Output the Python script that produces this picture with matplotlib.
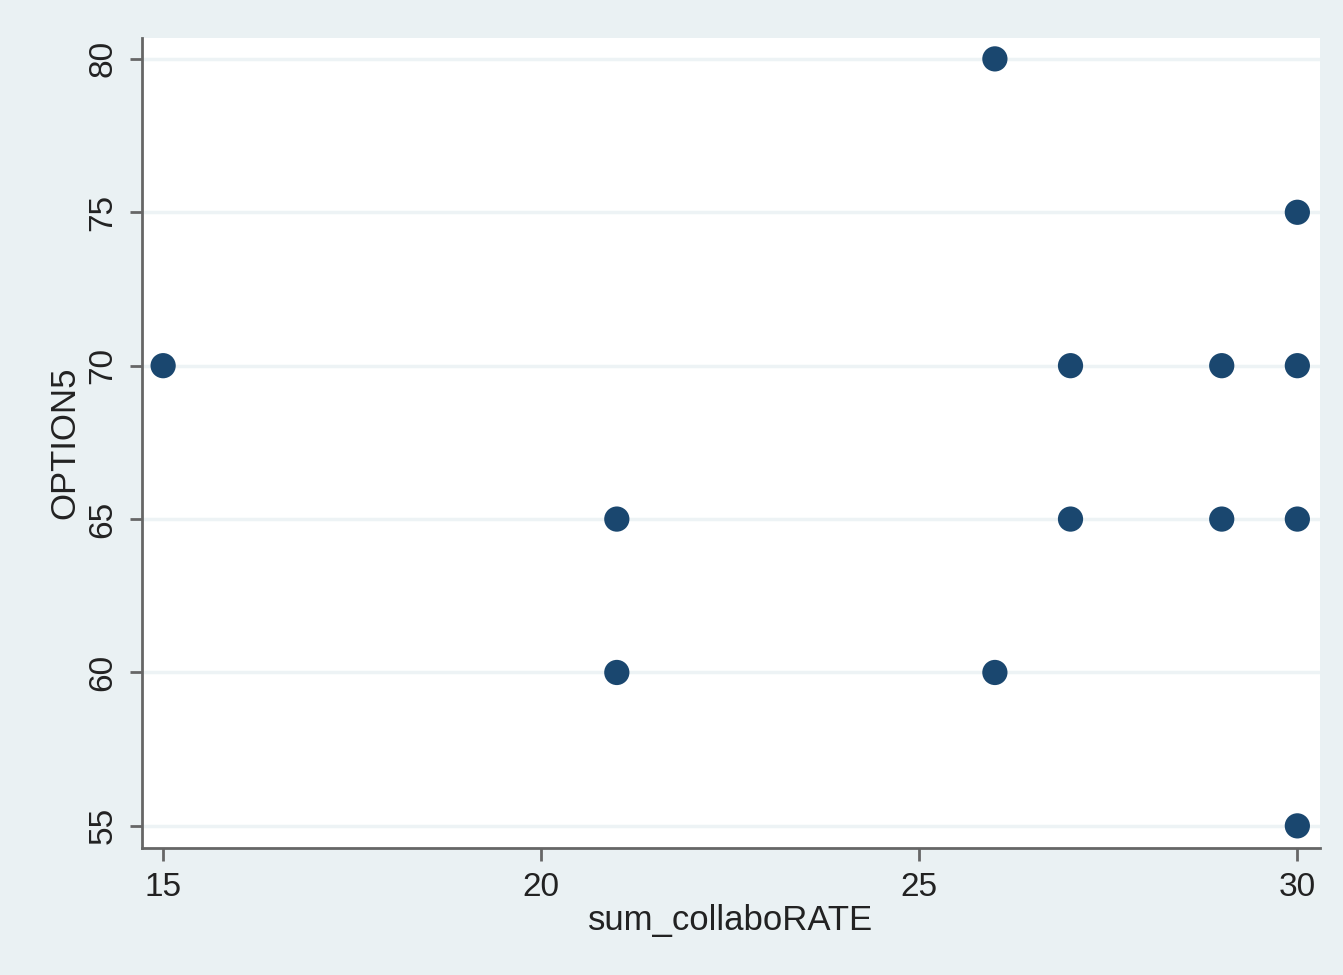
import matplotlib.pyplot as plt

# data
collabo = [26, 30, 15, 27, 29, 30, 21, 27, 29, 30, 21, 26, 30]
option5 = [80, 75, 70, 70, 70, 70, 65, 65, 65, 65, 60, 60, 55]
x_ticks = [15, 20, 25, 30]
y_ticks = [55, 60, 65, 70, 75, 80]

plt.rcParams["font.family"] = ["Liberation Sans", "DejaVu Sans"]

bg = "#EAF1F3"
fig = plt.figure(figsize=(13.43, 9.75), dpi=100, facecolor=bg)
ax = fig.add_axes([0.1057, 0.1303, 0.8772, 0.8307])
ax.set_facecolor("white")

# gridlines on the y ticks only (Stata s2color look)
for yv in y_ticks:
    ax.axhline(yv, color="#EDF3F5", lw=2.5, zorder=1)

ax.scatter(collabo, option5, s=330, color="#1A476F", edgecolors="none", zorder=3)

ax.set_xlim(14.72, 30.30)
ax.set_ylim(54.28, 80.68)
ax.set_xticks(x_ticks)
ax.set_yticks(y_ticks)

for side in ["top", "right"]:
    ax.spines[side].set_visible(False)
for side in ["left", "bottom"]:
    ax.spines[side].set_color("#666666")
    ax.spines[side].set_linewidth(2)

ax.tick_params(axis="both", length=9, width=2, color="#666666", labelsize=24,
               labelcolor="#222222", pad=8)
ax.tick_params(axis="y", labelrotation=90)
for lab in ax.get_yticklabels():
    lab.set_va("center")

ax.set_xlabel("sum_collaboRATE", fontsize=25, color="#222222", labelpad=1)
ax.set_ylabel("OPTION5", fontsize=25, color="#222222", labelpad=4)

fig.savefig("out.png", dpi=100, facecolor=bg)
